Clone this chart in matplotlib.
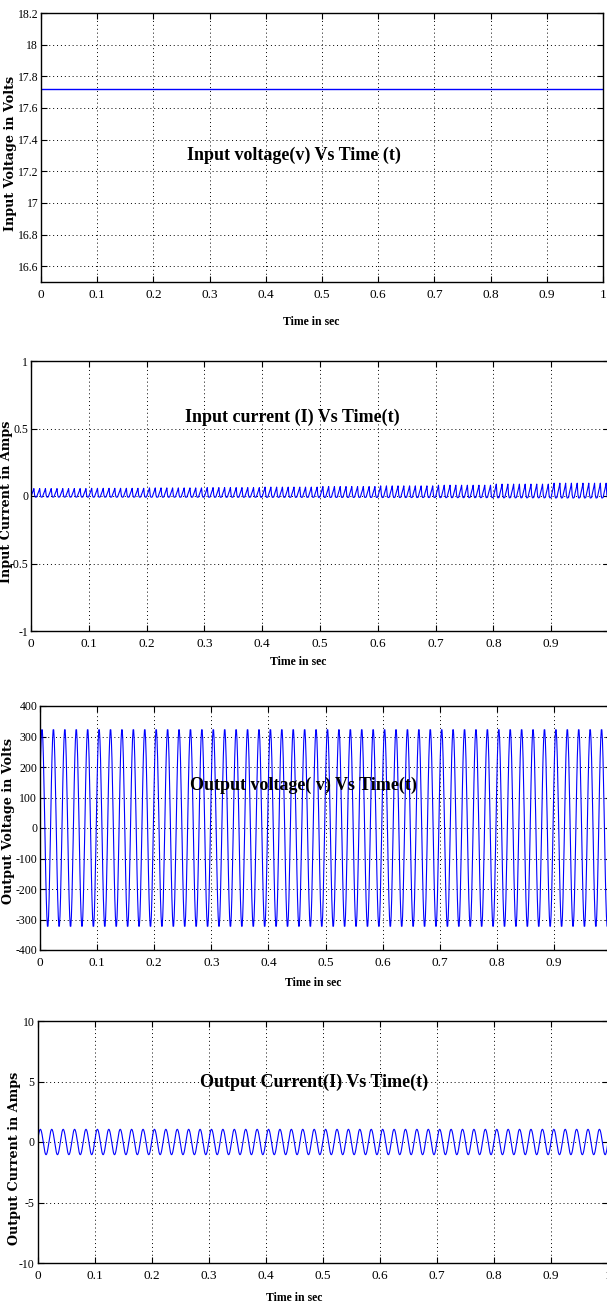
import numpy as np
import matplotlib
matplotlib.use("Agg")
import matplotlib.pyplot as plt

plt.rcParams["font.family"] = ["Liberation Serif", "DejaVu Serif"]

# ---- data ----
t_end = 1.0
vin_level = 17.72                       # input voltage, flat line

# input current: one tooth of the ripple (relative shape), 100 teeth in 1 s
iin_tooth = [-0.1, 0.2, 0.45, 0.7, 1.0, 0.1, -0.15, -0.15]
iin_peak = [0.055, 0.057, 0.06, 0.062, 0.066, 0.07, 0.075, 0.08, 0.088, 0.095]  # per 0.1 s
iin_teeth_per_block = 10

# output voltage: one 50 Hz period, 20 samples [V]
vout_cycle = [150, 231, 289, 322, 322, 289, 228, 146, 49, -55,
              -150, -231, -289, -322, -322, -289, -228, -146, -49, 55]
# output current: one 50 Hz period, 20 samples [A]
iout_cycle = [0, 0.32, 0.62, 0.85, 1.0, 1.05, 1.0, 0.85, 0.62, 0.32,
              0, -0.32, -0.62, -0.85, -1.0, -1.05, -1.0, -0.85, -0.62, -0.32]
n_cycles = 50

xticks = [0, 0.1, 0.2, 0.3, 0.4, 0.5, 0.6, 0.7, 0.8, 0.9, 1]
xticklabels = ["0", "0.1", "0.2", "0.3", "0.4", "0.5", "0.6", "0.7", "0.8", "0.9", "1"]

# ---- build the series ----
t_vin = np.array([0.0, t_end])
v_in = np.array([vin_level, vin_level])

amp = np.repeat(iin_peak, iin_teeth_per_block)
i_in = (np.array(iin_tooth)[None, :] * amp[:, None]).ravel()
i_in = np.append(i_in, i_in[0])
t_iin = np.arange(len(i_in)) * t_end / (len(i_in) - 1)

v_out = np.tile(vout_cycle, n_cycles)
v_out = np.append(v_out, v_out[0])
t_vout = np.arange(len(v_out)) * t_end / (len(v_out) - 1)

i_out = np.tile(iout_cycle, n_cycles)
i_out = np.append(i_out, i_out[0])
t_iout = np.arange(len(i_out)) * t_end / (len(i_out) - 1)

W, H = 607, 1308
fig = plt.figure(figsize=(W / 100, H / 100), dpi=100)


def px_axes(left, right, top, bottom):
    return fig.add_axes([left / W, 1 - bottom / H, (right - left) / W, (bottom - top) / H])


def style(ax, ylim, yticks, yticklabels, title, tpos, ylabel, ypos, xpos):
    ax.set_xlim(0, 1)
    ax.set_ylim(*ylim)
    ax.set_xticks(xticks)
    ax.set_xticklabels(xticklabels)
    ax.set_yticks(yticks)
    ax.set_yticklabels(yticklabels)
    ax.tick_params(direction="in", length=4, width=0.8, top=True, right=True,
                   labelsize=9.5, pad=5)
    ax.tick_params(axis="y", pad=2, labelsize=8.5)
    ax.grid(True, color="black", linestyle=(0, (1, 3)), linewidth=0.7)
    for s in ax.spines.values():
        s.set_linewidth(1.0)
    fig.text(tpos[0] / W, 1 - tpos[1] / H, title, ha="center", va="center",
             fontsize=13, fontweight="bold", color="black")
    # ylabel anchor = right edge of the rotated text, xlabel anchor = its top
    ax.set_ylabel(ylabel, fontsize=9.2, fontweight="bold", family=["DejaVu Serif"])
    ax.yaxis.set_label_coords(ypos[0] / W, 1 - ypos[1] / H, transform=fig.transFigure)
    ax.set_xlabel("Time in sec", fontsize=8.5, fontweight="bold")
    ax.xaxis.set_label_coords(xpos[0] / W, 1 - xpos[1] / H, transform=fig.transFigure)


ax1 = px_axes(41, 603, 13, 282)
ax1.plot(t_vin, v_in, color="#0000ff", linewidth=1.0)
style(ax1, (16.5, 18.2), [16.6, 16.8, 17, 17.2, 17.4, 17.6, 17.8, 18, 18.2],
      ["16.6", "16.8", "17", "17.2", "17.4", "17.6", "17.8", "18", "18.2"],
      "Input voltage(v) Vs Time (t)", (294, 155),
      "Input Voltage in Volts", (17, 153), (311, 316))

ax2 = px_axes(31, 609, 361, 631)
ax2.plot(t_iin, i_in, color="#0000ff", linewidth=0.8)
style(ax2, (-1, 1), [-1, -0.5, 0, 0.5, 1], ["-1", "-0.5", "0", "0.5", "1"],
      "Input current (I) Vs Time(t)", (292, 417),
      "Input Current in Amps", (13, 502), (298, 656))

ax3 = px_axes(40, 611, 706, 950)
ax3.plot(t_vout, v_out, color="#0000ff", linewidth=0.8)
style(ax3, (-400, 400), list(range(-400, 401, 100)),
      [str(v) for v in range(-400, 401, 100)],
      "Output voltage( v) Vs Time(t)", (303, 785),
      "Output Voltage in Volts", (15.5, 821), (313, 977))

ax4 = px_axes(37.5, 608, 1021, 1263)
ax4.plot(t_iout, i_out, color="#0000ff", linewidth=0.8)
style(ax4, (-10, 10), [-10, -5, 0, 5, 10], ["-10", "-5", "0", "5", "10"],
      "Output Current(I) Vs Time(t)", (314, 1082),
      "Output Current in Amps", (21, 1158), (294, 1292))

fig.savefig("out.png", dpi=100)
